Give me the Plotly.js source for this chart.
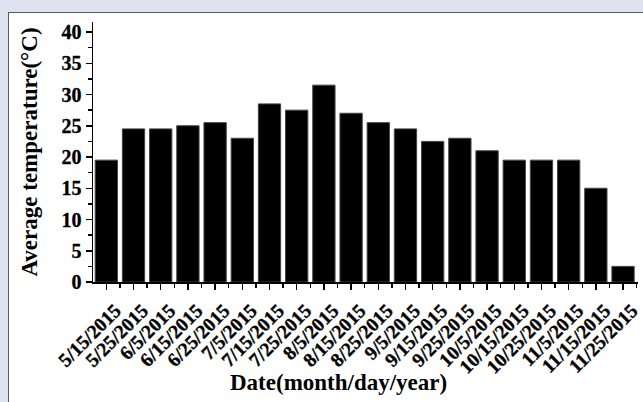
<!DOCTYPE html>
<html>
<head>
<meta charset="utf-8">
<script src="https://cdn.plot.ly/plotly-3.0.1.min.js"></script>
<style>
  html, body { margin: 0; padding: 0; width: 643px; height: 402px; overflow: hidden; background: #dfe3f0; }
  #panel { position: absolute; left: 8px; top: 12px; width: 635px; height: 390px; background: #ffffff; border-left: 1px solid #5a5a5a; border-top: 1px solid #5a5a5a; }
  #chart { position: absolute; left: 0; top: 0; width: 643px; height: 402px; }
  #chart .xtick text, #chart .ytick text { stroke: #000; stroke-width: 0.35px; }
</style>
</head>
<body>
<div id="panel"></div>
<div id="chart"></div>
<script>
const dates = ["5/15/2015","5/25/2015","6/5/2015","6/15/2015","6/25/2015","7/5/2015","7/15/2015","7/25/2015","8/5/2015","8/15/2015","8/25/2015","9/5/2015","9/15/2015","9/25/2015","10/5/2015","10/15/2015","10/25/2015","11/5/2015","11/15/2015","11/25/2015"];
const temps = [19.5, 24.5, 24.5, 25, 25.5, 23, 28.5, 27.5, 31.5, 27, 25.5, 24.5, 22.5, 23, 21, 19.5, 19.5, 19.5, 15, 2.5];
const yTicks = [0, 5, 10, 15, 20, 25, 30, 35, 40];
const xTitle = "Date(month/day/year)";
const yTitle = "Average temperature(°C)";

const positions = dates.map((d, i) => i);
const fam = "Liberation Serif, Times New Roman, serif";

Plotly.newPlot("chart", [{
  type: "bar",
  x: positions,
  y: temps,
  width: 0.82,
  marker: { color: "#000000", line: { color: "#444444", width: 1 } },
  hoverinfo: "skip"
}], {
  width: 643, height: 402,
  paper_bgcolor: "rgba(0,0,0,0)",
  plot_bgcolor: "rgba(0,0,0,0)",
  margin: { l: 93, r: 5, t: 22, b: 120 },
  showlegend: false,
  font: { family: fam, color: "#000" },
  annotations: [{
    text: "<b>" + xTitle + "</b>",
    xref: "paper", yref: "paper",
    x: 0.451, y: -0.385,
    xanchor: "center", yanchor: "middle",
    showarrow: false,
    font: { family: fam, size: 23, color: "#000" }
  }],
  xaxis: {
    range: [-0.49, 19.55],
    tickmode: "array",
    tickvals: positions,
    ticktext: dates.map(d => "<b>" + d + "</b>"),
    tickangle: -45,
    ticklabelshift: 9,
    ticklabelstandoff: 2,
    ticks: "outside", ticklen: 6, tickwidth: 1.5, tickcolor: "#000",
    minor: { tickmode: "linear", tick0: 0.5, dtick: 1, ticks: "outside", ticklen: 4, tickwidth: 1.5, tickcolor: "#000" },
    showline: true, linecolor: "#000", linewidth: 1.5,
    showgrid: false, zeroline: false,
    tickfont: { family: fam, size: 19.5, color: "#000", weight: 700 },
    automargin: false,
    fixedrange: true
  },
  yaxis: {
    range: [0, 41.6],
    tickmode: "array",
    tickvals: yTicks,
    ticktext: yTicks.map(v => "<b>" + v + "</b>"),
    ticks: "outside", ticklen: 6, tickwidth: 1.5, tickcolor: "#000",
    minor: { tickmode: "linear", tick0: 2.5, dtick: 5, ticks: "outside", ticklen: 4, tickwidth: 1.5, tickcolor: "#000" },
    showline: true, linecolor: "#000", linewidth: 1.5,
    showgrid: false, zeroline: false,
    tickfont: { family: fam, size: 20, color: "#000", weight: 700 },
    title: { text: "<b>" + yTitle + "</b>", font: { family: fam, size: 23, color: "#000" }, standoff: 17 },
    automargin: false,
    fixedrange: true
  }
}, { displayModeBar: false, staticPlot: true });
</script>
</body>
</html>
